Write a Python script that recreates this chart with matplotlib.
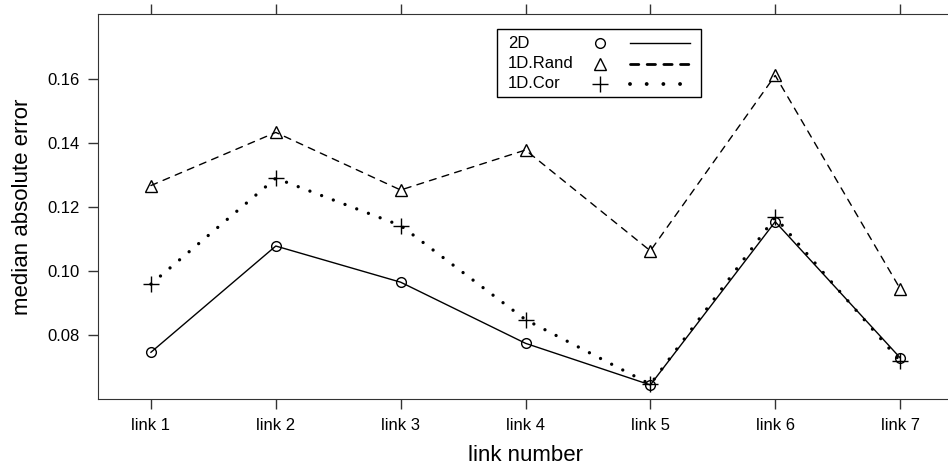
import matplotlib.pyplot as plt
from matplotlib.lines import Line2D
from matplotlib.patches import Rectangle

plt.rcParams['font.family'] = ['Liberation Sans', 'DejaVu Sans']
plt.rcParams['lines.scale_dashes'] = False

links = ['link 1', 'link 2', 'link 3', 'link 4', 'link 5', 'link 6', 'link 7']
err_2d = [0.0745, 0.1077, 0.0964, 0.0773, 0.0643, 0.1153, 0.0728]
err_rand = [0.1266, 0.1432, 0.1252, 0.1377, 0.1062, 0.1610, 0.0944]
err_cor = [0.0958, 0.1289, 0.1141, 0.0847, 0.0645, 0.1167, 0.0718]

series = [
    ('2D', err_2d, 'o', '-', 7),
    ('1D.Rand', err_rand, '^', (0, (5, 4.5)), 8),
    ('1D.Cor', err_cor, '+', (0, (0.01, 9)), 11),
]

fig = plt.figure(figsize=(9.48, 4.69), dpi=100)
ax = fig.add_axes([98 / 948, 1 - 399 / 469, 855 / 948, 385 / 469])

x = list(range(1, len(links) + 1))
for name, vals, mk, ls, ms in series:
    lw = 2.4 if name == '1D.Cor' else 1.0
    ax.plot(x, vals, color='black', linestyle=ls, linewidth=lw,
            dash_capstyle='round')
    ax.plot(x, vals, color='black', linestyle='none', marker=mk,
            markersize=ms, markerfacecolor='none', markeredgewidth=1.0)

ax.set_xlim(0.576, 7.424)
ax.set_ylim(0.0599, 0.1802)
ax.set_xticks(x)
ax.set_xticklabels(links)
ax.set_yticks([0.08, 0.10, 0.12, 0.14, 0.16])
ax.set_yticklabels(['0.08', '0.10', '0.12', '0.14', '0.16'])
ax.tick_params(axis='both', direction='out', length=7.5, width=1,
               labelsize=12, colors='#333333', labelcolor='black', pad=6)
ax.tick_params(axis='x', top=True, labeltop=False)
for s in ax.spines.values():
    s.set_color('#333333')
ax.set_xlabel('link number', fontsize=16, labelpad=9)
ax.set_ylabel('median absolute error', fontsize=16, labelpad=10)

# key box in the style of a lattice key: text, symbol, line
def fx(px):
    return (px - 98) / 855

def fy(py):
    return (399 - py) / 385

ax.add_patch(Rectangle((fx(497), fy(97)), fx(701) - fx(497), fy(29) - fy(97),
                       transform=ax.transAxes, fill=False, edgecolor='black',
                       linewidth=1, clip_on=False))
rows_y = [43, 64, 84]
for (name, vals, mk, ls, ms), py in zip(series, rows_y):
    ax.text(fx(508), fy(py), name, transform=ax.transAxes, fontsize=12,
            va='center', ha='left')
    ax.add_line(Line2D([fx(600)], [fy(py)], transform=ax.transAxes,
                       marker=mk, markersize=ms, markerfacecolor='none',
                       markeredgecolor='black', markeredgewidth=1.0,
                       linestyle='none'))
    if name == '1D.Rand':
        lstyle, lw = (0, (6, 6)), 2.0
    elif name == '1D.Cor':
        lstyle, lw = (0, (0.01, 12)), 2.8
    else:
        lstyle, lw = '-', 1.0
    ax.add_line(Line2D([fx(630), fx(690)], [fy(py), fy(py)],
                       transform=ax.transAxes, color='black', linestyle=lstyle,
                       linewidth=lw, dash_capstyle='round'))

fig.savefig('out.png', dpi=100)
